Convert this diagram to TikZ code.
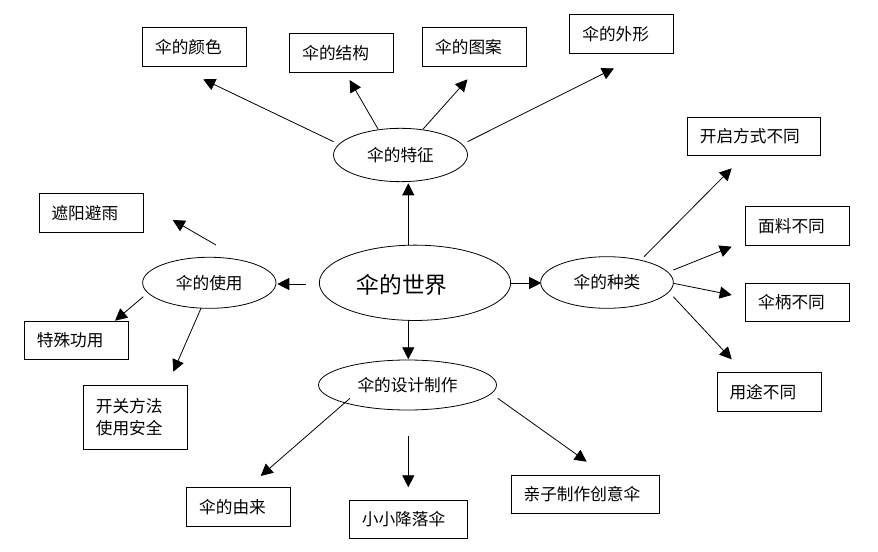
\documentclass[tikz,border=0pt]{standalone}
\usepackage{fontspec}
\setmainfont{Noto Sans CJK SC}
\usetikzlibrary{arrows.meta,shapes.geometric}
\begin{document}
\begin{tikzpicture}[x=0.75pt,y=-0.75pt,
  box/.style={draw,line width=0.6pt,inner xsep=9.4pt,inner ysep=0pt,text width=59.2pt,minimum height=29pt,font=\fontsize{12.5}{16}\selectfont,align=left},
  ell/.style={draw,ellipse,line width=0.6pt,inner sep=0pt,font=\fontsize{12.5}{16}\selectfont},
  arr/.style={line width=0.6pt,-{Triangle[length=9pt,width=9pt]}}]
\useasboundingbox[fill=white] (0,0) rectangle (878,552);
% central ellipse
\node[ell,minimum width=143.5pt,minimum height=56.5pt] (c) at (415,282.8) {};
\node[font=\fontsize{17}{20}\selectfont] (ct) at (402,285) {伞的世界};
% second-level ellipses
\node[ell,minimum width=100.5pt,minimum height=40pt] (tz) at (400.5,155) {伞的特征};
\node[ell,minimum width=100pt,minimum height=38.3pt] (sy) at (209.3,282.8) {伞的使用};
\node[ell,minimum width=99.5pt,minimum height=38.7pt] (zl) at (607,282.5) {伞的种类};
\node[ell,minimum width=133.5pt,minimum height=37.5pt] (sj) at (407.5,385) {伞的设计制作};
% boxes
\node[box] (ys) at (194.6,47) {伞的颜色};
\node[box] (jg) at (341.8,53.2) {伞的结构};
\node[box] (ta) at (474.7,47) {伞的图案};
\node[box] (wx) at (621.8,33.8) {伞的外形};
\node[box] (zy) at (91,212.8) {遮阳避雨};
\node[box] (ts) at (76.3,340.3) {特殊功用};
\node[box,minimum height=48pt] (kg) at (135.3,417) {开关方法\\使用安全};
\node[box,text width=81.2pt,minimum height=28.3pt] (kq) at (754,136.2) {开启方式不同};
\node[box] (ml) at (797.7,226) {面料不同};
\node[box,minimum height=28.3pt] (sb) at (797.7,302.2) {伞柄不同};
\node[box] (yt) at (769,391.7) {用途不同};
\node[box] (yl) at (238.7,506.7) {伞的由来};
\node[box,text width=69.7pt] (jl) at (408.3,519.5) {小小降落伞};
\node[box,text width=92.4pt,minimum height=28.5pt] (qz) at (585.2,494.3) {亲子制作创意伞};
% arrow end points
\coordinate (cu1) at (408.3,245);   \coordinate (cu2) at (408.3,183.3);
\coordinate (cd1) at (408.3,320.7); \coordinate (cd2) at (408.3,359.3);
\coordinate (cl1) at (306,284);     \coordinate (cl2) at (277.3,284);
\coordinate (cr1) at (510.7,283);   \coordinate (cr2) at (541.2,283);
\coordinate (t1a) at (333.6,141.7); \coordinate (t1b) at (203.2,79.3);
\coordinate (t2a) at (378.2,129.3); \coordinate (t2b) at (349.6,80);
\coordinate (t3a) at (422.9,129.3); \coordinate (t3b) at (467.5,79.3);
\coordinate (t4a) at (467.5,141.7); \coordinate (t4b) at (614,68.3);
\coordinate (s1a) at (216,245);     \coordinate (s1b) at (172.7,220);
\coordinate (s2a) at (143.3,296.7); \coordinate (s2b) at (115,320.7);
\coordinate (s3a) at (201,308.3);   \coordinate (s3b) at (173.3,371.7);
\coordinate (z1a) at (644,256.7);   \coordinate (z1b) at (731.7,168.3);
\coordinate (z2a) at (673.3,270);   \coordinate (z2b) at (731.7,246.7);
\coordinate (z3a) at (673.3,283.3); \coordinate (z3b) at (731.7,295);
\coordinate (z4a) at (673.3,296.7); \coordinate (z4b) at (731.7,359.3);
\coordinate (d1a) at (350,398.3);   \coordinate (d1b) at (260.7,476);
\coordinate (d2a) at (408.3,436);   \coordinate (d2b) at (408.3,487.3);
\coordinate (d3a) at (497.7,398.3); \coordinate (d3b) at (586.7,461.7);
% arrows
\draw[arr] (cu1) -- (cu2);
\draw[arr] (cd1) -- (cd2);
\draw[arr] (cl1) -- (cl2);
\draw[arr] (cr1) -- (cr2);
\draw[arr] (t1a) -- (t1b);
\draw[arr] (t2a) -- (t2b);
\draw[arr] (t3a) -- (t3b);
\draw[arr] (t4a) -- (t4b);
\draw[arr] (s1a) -- (s1b);
\draw[arr] (s2a) -- (s2b);
\draw[arr] (s3a) -- (s3b);
\draw[arr] (z1a) -- (z1b);
\draw[arr] (z2a) -- (z2b);
\draw[arr] (z3a) -- (z3b);
\draw[arr] (z4a) -- (z4b);
\draw[arr] (d1a) -- (d1b);
\draw[arr] (d2a) -- (d2b);
\draw[arr] (d3a) -- (d3b);
\end{tikzpicture}
\end{document}
